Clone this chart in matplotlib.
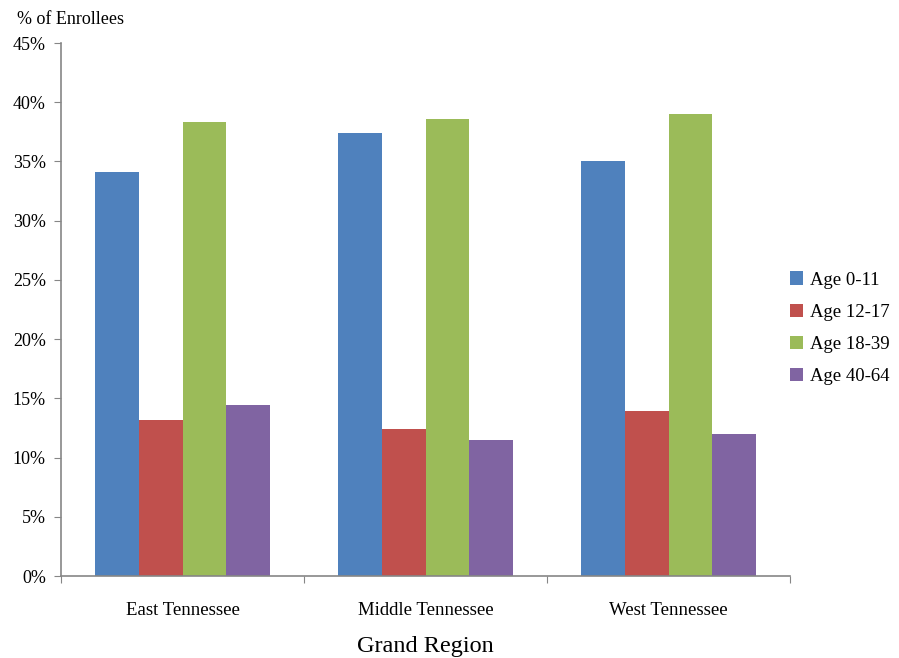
import numpy as np
import matplotlib.pyplot as plt
from matplotlib.ticker import FuncFormatter

plt.rcParams['font.family'] = ['Liberation Serif', 'DejaVu Serif']

regions = ["East Tennessee", "Middle Tennessee", "West Tennessee"]
age_groups = ["Age 0-11", "Age 12-17", "Age 18-39", "Age 40-64"]
age_0_11 = [34.1, 37.4, 35.0]
age_12_17 = [13.2, 12.4, 13.9]
age_18_39 = [38.3, 38.6, 39.0]
age_40_64 = [14.4, 11.5, 12.0]
colors = ["#4F81BD", "#C0504D", "#9BBB59", "#8064A2"]

series = [age_0_11, age_12_17, age_18_39, age_40_64]

fig = plt.figure(figsize=(8.99, 6.58), dpi=100)
ax = fig.add_axes([0.0679, 0.1246, 0.8109, 0.8100])

x = np.arange(len(regions))
width = 0.18
for i, (vals, label, c) in enumerate(zip(series, age_groups, colors)):
    ax.bar(x + (i - 1.5) * width, vals, width, color=c, label=label)

ax.set_xlim(-0.5, len(regions) - 0.5)
ax.set_ylim(0, 45)
ax.set_yticks(np.arange(0, 46, 5))
ax.yaxis.set_major_formatter(FuncFormatter(lambda v, p: f"{v:.0f}%"))

# category labels between boundary ticks
ax.set_xticks(np.arange(-0.5, len(regions), 1.0))
ax.set_xticklabels([])
ax.set_xticks(x, minor=True)
ax.set_xticklabels(regions, minor=True, fontsize=13.5)
ax.tick_params(axis='x', which='minor', length=0, pad=19)
ax.tick_params(axis='x', which='major', length=5, color='#868686', direction='out')
ax.tick_params(axis='y', length=5, color='#868686', labelsize=13, pad=6)

for s in ['top', 'right']:
    ax.spines[s].set_visible(False)
for s in ['left', 'bottom']:
    ax.spines[s].set_color('#868686')
    ax.spines[s].set_linewidth(1.2)

ax.set_xlabel("Grand Region", fontsize=17.5, labelpad=12)
fig.text(0.019, 0.971, "% of Enrollees", fontsize=13, ha='left', va='center')

ax.legend(loc='center left', bbox_to_anchor=(1.0, 0.465), frameon=False,
          fontsize=13.5, handlelength=0.7, handleheight=0.7, handletextpad=0.35,
          labelspacing=0.8, borderpad=0, borderaxespad=0)

fig.savefig("out.png", dpi=100)
